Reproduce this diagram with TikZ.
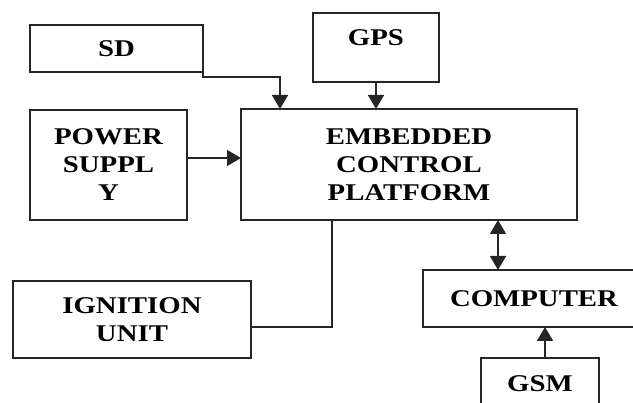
\documentclass[tikz,border=0pt]{standalone}
\usepackage{fontspec}
\newfontfamily\lblfont[FakeStretch=1.2]{Liberation Serif}
\usetikzlibrary{arrows.meta,calc}
\begin{document}
\begin{tikzpicture}[x=1pt,y=-1pt,
  box/.style={draw=black!85, line width=1.3pt, rectangle, inner sep=0pt,
    outer sep=0pt, anchor=north west, align=center,
    font=\lblfont\bfseries\fontsize{24}{28}\selectfont},
  link/.style={draw=black!85, line width=1.7pt},
  tip/.tip={Triangle[length=14pt,width=16pt]},
  arr/.style={link, -tip},
  darr/.style={link, tip-tip}]
\useasboundingbox (0,0) rectangle (633,403);
\clip (0,0) rectangle (633,403);

% blocks
\node[box, minimum width=173pt, minimum height=47pt] (sd) at (30,25) {SD};
\node[box, minimum width=126pt, minimum height=69pt,
      text height=16pt, text depth=19pt] (gps) at (313,13) {GPS};
\node[box, minimum width=157pt, minimum height=110pt] (power) at (30,110)
  {POWER\\SUPPL\\Y};
\node[box, minimum width=336pt, minimum height=111pt] (ecp) at (241,109)
  {EMBEDDED\\CONTROL\\PLATFORM};
\node[box, minimum width=238pt, minimum height=77pt] (ign) at (13,281)
  {IGNITION\\UNIT};
\node[box, minimum width=222pt, minimum height=57pt] (comp) at (423,270)
  {COMPUTER};
\node[box, minimum width=118pt, minimum height=52pt] (gsm) at (481,358)
  {GSM};

% connections
\coordinate (sdk) at (280,77);
\draw[arr] (sd.east) |- (sdk) -- (sdk |- ecp.north);
\draw[arr] (gps.south) -- (gps.south |- ecp.north);
\coordinate (pw) at ($(power.east)+(0,-7)$);
\draw[arr] (pw) -- (pw -| ecp.west);
\coordinate (ik) at (332,327);
\draw[link] (ik |- ecp.south) -- (ik) -- (ik -| ign.east);
\coordinate (ck) at (498,245);
\draw[darr] (ck |- ecp.south) -- (ck |- comp.north);
\coordinate (gk) at (545,340);
\draw[arr] (gk |- gsm.north) -- (gk |- comp.south);
\end{tikzpicture}
\end{document}
